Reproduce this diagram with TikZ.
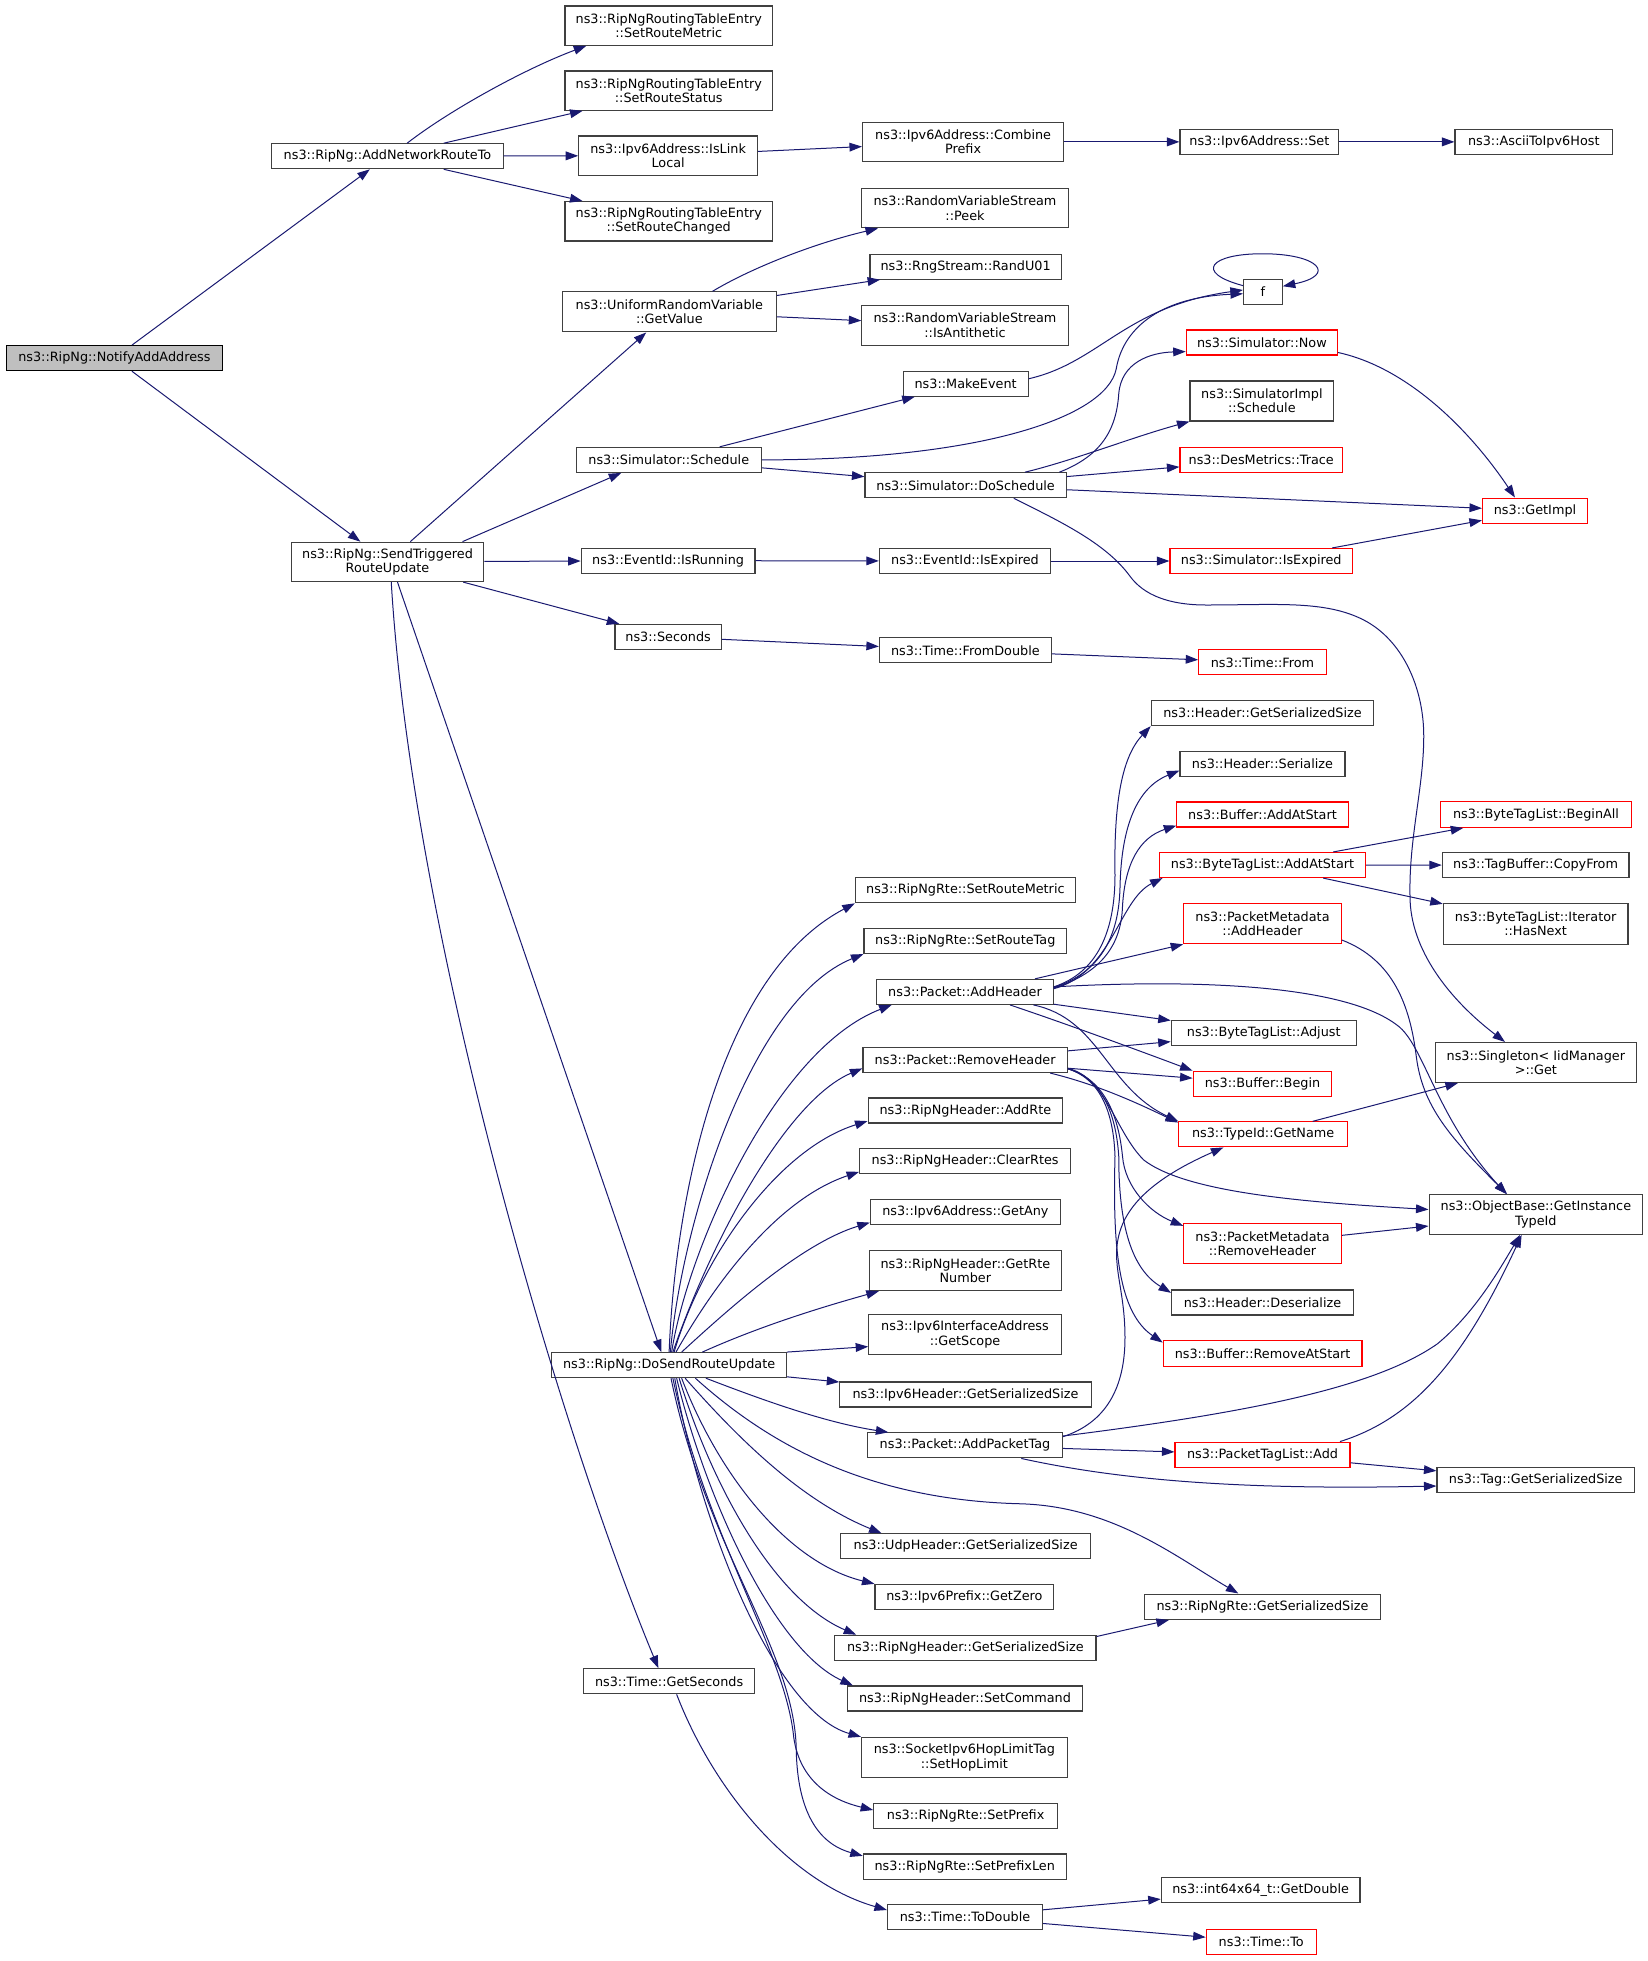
\documentclass[tikz,border=0pt]{standalone}
\usepackage{fontspec}
\setmainfont{DejaVu Sans}
\usetikzlibrary{arrows.meta}
\definecolor{edgeblue}{HTML}{191970}
\definecolor{boxgray}{HTML}{404040}
\definecolor{rootfill}{HTML}{BFBFBF}
\begin{document}
\begin{tikzpicture}[x=1pt,y=-1pt,
  fn/.style={draw=boxgray, line width=0.9pt, fill=white, inner xsep=2pt, inner ysep=1pt, align=center, font=\fontsize{10.25}{11.5}\selectfont, text=black},
  rfn/.style={fn, draw=red},
  rootfn/.style={fn, draw=black, fill=rootfill},
  wh/.style 2 args={minimum width=#1pt, minimum height=#2pt},
  ce/.style={draw=edgeblue, line width=0.8pt, -{Triangle[length=10pt,width=7pt]}}]
\useasboundingbox (0,0) rectangle (1318.4,1568.8);

% ---------------- nodes ----------------
\node[rootfn,wh={173}{20}] (root) at (91.5,286.5) {ns3::RipNg::NotifyAddAddress};
\node[fn,wh={185}{20}] (anrt) at (310,125) {ns3::RipNg::AddNetworkRouteTo};
\node[fn,wh={166}{31.5}] (srm) at (535,20.5) {ns3::RipNgRoutingTableEntry\\::SetRouteMetric};
\node[fn,wh={166}{31.5}] (srs) at (535,72.5) {ns3::RipNgRoutingTableEntry\\::SetRouteStatus};
\node[fn,wh={143}{31.5}] (ill) at (534.5,124.5) {ns3::Ipv6Address::IsLink\\Local};
\node[fn,wh={166}{31.5}] (src) at (535,177) {ns3::RipNgRoutingTableEntry\\::SetRouteChanged};
\node[fn,wh={161}{31.5}] (cp) at (770.5,113.5) {ns3::Ipv6Address::Combine\\Prefix};
\node[fn,wh={127}{20}] (set) at (1007.5,113.5) {ns3::Ipv6Address::Set};
\node[fn,wh={126}{20}] (ascii) at (1227,113.5) {ns3::AsciiToIpv6Host};
\node[fn,wh={154}{31.5}] (st) at (310,449.5) {ns3::RipNg::SendTriggered\\RouteUpdate};
\node[fn,wh={171}{32}] (gv) at (535.5,249.5) {ns3::UniformRandomVariable\\::GetValue};
\node[fn,wh={165}{31.5}] (peek) at (772,166.5) {ns3::RandomVariableStream\\::Peek};
\node[fn,wh={153}{20}] (ru) at (772.5,213.3) {ns3::RngStream::RandU01};
\node[fn,wh={165}{32}] (ia) at (772,260.3) {ns3::RandomVariableStream\\::IsAntithetic};
\node[fn,wh={31}{20}] (f) at (1010.3,233.5) {f};
\node[rfn,wh={121}{20}] (now) at (1009.5,274) {ns3::Simulator::Now};
\node[fn,wh={100}{20}] (me) at (772.5,307) {ns3::MakeEvent};
\node[fn,wh={115}{32}] (sis) at (1009.5,320.8) {ns3::SimulatorImpl\\::Schedule};
\node[fn,wh={148}{20}] (ss) at (535,367.9) {ns3::Simulator::Schedule};
\node[fn,wh={161}{20}] (ds) at (772.5,388.2) {ns3::Simulator::DoSchedule};
\node[rfn,wh={130}{20}] (dmt) at (1009,367.9) {ns3::DesMetrics::Trace};
\node[rfn,wh={84}{20}] (gi) at (1228,408.5) {ns3::GetImpl};
\node[fn,wh={139}{20}] (ir) at (534.5,448.5) {ns3::EventId::IsRunning};
\node[fn,wh={137}{20}] (eie) at (772,448.8) {ns3::EventId::IsExpired};
\node[rfn,wh={146}{20}] (sie) at (1009,448.8) {ns3::Simulator::IsExpired};
\node[fn,wh={85}{20}] (sec) at (534.5,509.5) {ns3::Seconds};
\node[fn,wh={137.5}{20}] (fd) at (772.3,520.3) {ns3::Time::FromDouble};
\node[rfn,wh={102}{20}] (tf) at (1010,529.9) {ns3::Time::From};
\node[fn,wh={178}{20}] (hgss) at (1010,570.5) {ns3::Header::GetSerializedSize};
\node[fn,wh={132}{20}] (hser) at (1010,611) {ns3::Header::Serialize};
\node[rfn,wh={137}{20}] (bas) at (1010,651.6) {ns3::Buffer::AddAtStart};
\node[rfn,wh={165}{20}] (btas) at (1010,692) {ns3::ByteTagList::AddAtStart};
\node[rfn,wh={152.6}{20.6}] (ba) at (1228.8,651.6) {ns3::ByteTagList::BeginAll};
\node[fn,wh={149.3}{20}] (cf) at (1228.5,692.1) {ns3::TagBuffer::CopyFrom};
\node[fn,wh={147.7}{32.5}] (hn) at (1228.5,739) {ns3::ByteTagList::Iterator\\::HasNext};
\node[rfn,wh={126}{32}] (pmah) at (1010,739) {ns3::PacketMetadata\\::AddHeader};
\node[fn,wh={176}{20}] (rsrm) at (772.3,712.2) {ns3::RipNgRte::SetRouteMetric};
\node[fn,wh={162}{20}] (rsrt) at (772.2,752.8) {ns3::RipNgRte::SetRouteTag};
\node[fn,wh={141}{20}] (pah) at (772,793.5) {ns3::Packet::AddHeader};
\node[fn,wh={148}{20}] (adj) at (1011,826.7) {ns3::ByteTagList::Adjust};
\node[fn,wh={161.3}{32}] (sg) at (1228.7,850) {ns3::Singleton< IidManager\\>::Get};
\node[fn,wh={163.5}{20}] (prh) at (772.1,848) {ns3::Packet::RemoveHeader};
\node[rfn,wh={111}{20}] (bb) at (1010,867) {ns3::Buffer::Begin};
\node[fn,wh={155.7}{20}] (addrte) at (772.3,888.4) {ns3::RipNgHeader::AddRte};
\node[rfn,wh={135}{20}] (tg) at (1010.5,907.5) {ns3::TypeId::GetName};
\node[fn,wh={168.8}{20}] (clr) at (772.1,929) {ns3::RipNgHeader::ClearRtes};
\node[fn,wh={170.9}{31.8}] (ob) at (1228.7,971.6) {ns3::ObjectBase::GetInstance\\TypeId};
\node[fn,wh={152}{20}] (any) at (772.3,969.6) {ns3::Ipv6Address::GetAny};
\node[rfn,wh={126}{32}] (pmrh) at (1010,995.1) {ns3::PacketMetadata\\::RemoveHeader};
\node[fn,wh={153.6}{32}] (grn) at (772.3,1016.5) {ns3::RipNgHeader::GetRte\\Number};
\node[fn,wh={145.4}{20}] (hds) at (1010,1042) {ns3::Header::Deserialize};
\node[fn,wh={154}{31.5}] (gsc) at (772,1067.5) {ns3::Ipv6InterfaceAddress\\::GetScope};
\node[rfn,wh={158.9}{20.3}] (bras) at (1010.1,1082.7) {ns3::Buffer::RemoveAtStart};
\node[fn,wh={187.6}{20}] (dsru) at (535.3,1092.1) {ns3::RipNg::DoSendRouteUpdate};
\node[fn,wh={201}{20}] (ihg) at (772.4,1115.6) {ns3::Ipv6Header::GetSerializedSize};
\node[fn,wh={156}{20}] (apt) at (772,1156.3) {ns3::Packet::AddPacketTag};
\node[rfn,wh={140}{20}] (ptla) at (1010,1163.7) {ns3::PacketTagList::Add};
\node[fn,wh={158}{20}] (tgs) at (1228.6,1184) {ns3::Tag::GetSerializedSize};
\node[fn,wh={200}{20}] (udp) at (772.5,1237) {ns3::UdpHeader::GetSerializedSize};
\node[fn,wh={143}{20}] (gz) at (771.5,1277.5) {ns3::Ipv6Prefix::GetZero};
\node[fn,wh={188.8}{20.3}] (rrgs) at (1010,1285.4) {ns3::RipNgRte::GetSerializedSize};
\node[fn,wh={209}{20}] (rhgs) at (772.3,1318.2) {ns3::RipNgHeader::GetSerializedSize};
\node[fn,wh={136.5}{20}] (gsec) at (535.3,1345) {ns3::Time::GetSeconds};
\node[fn,wh={188}{20}] (scmd) at (772,1358.8) {ns3::RipNgHeader::SetCommand};
\node[fn,wh={164.5}{32}] (shl) at (771.5,1405.9) {ns3::SocketIpv6HopLimitTag\\::SetHopLimit};
\node[fn,wh={147}{20}] (sp) at (772.5,1452.7) {ns3::RipNgRte::SetPrefix};
\node[fn,wh={162.3}{20.3}] (spl) at (771.8,1493.3) {ns3::RipNgRte::SetPrefixLen};
\node[fn,wh={159}{20}] (gd) at (1008.5,1512) {ns3::int64x64\_t::GetDouble};
\node[fn,wh={124}{20}] (td) at (772,1533.5) {ns3::Time::ToDouble};
\node[rfn,wh={88}{20}] (tto) at (1009,1553.5) {ns3::Time::To};

% ---------------- edges ----------------
\draw[ce] (root) -- (anrt);
\draw[ce] (root) -- (st);
\draw[ce] ([xshift=15.7pt]anrt.north) .. controls (360,88) and (420,55) .. ([xshift=-66pt]srm.south);
\draw[ce] ([xshift=45pt]anrt.north) -- ([xshift=-69pt]srs.south);
\draw[ce] (anrt) -- (ill);
\draw[ce] ([xshift=45pt]anrt.south) -- ([xshift=-69pt]src.north);
\draw[ce] (ill) -- (cp);
\draw[ce] (cp) -- (set);
\draw[ce] (set) -- (ascii);
\draw[ce] (st) -- (gv);
\draw[ce] ([xshift=60pt]st.north) -- ([xshift=-38pt]ss.south);
\draw[ce] (st) -- (ir);
\draw[ce] (st) -- (sec);
\draw[ce] ([xshift=8pt]st.south) -- ([xshift=-6.3pt]dsru.north);
\draw[ce] ([xshift=3pt]st.south) .. controls (330,750) and (450,1150) .. ([xshift=-8.6pt]gsec.north);
\draw[ce] ([xshift=34.5pt]gv.north) .. controls (600,215) and (650,195) .. ([xshift=-69.6pt]peek.south);
\draw[ce] (gv) -- (ru);
\draw[ce] (gv) -- (ia);
\draw[ce] (ss) -- (me);
\draw[ce] (ss.east) .. controls (780,368) and (885,335) .. (893,295) .. controls (898,265) and (925,238) .. ([yshift=-1.5pt]f.west);
\draw[ce] ([yshift=4pt]me.east) .. controls (880,290) and (900,245) .. ([yshift=1.5pt]f.west);
\draw[ce] ([yshift=5pt]f.west) .. controls (955,218) and (968,203) .. (1010,203) .. controls (1055,203) and (1070,220) .. ([yshift=4.5pt]f.east);
\draw[ce] (ss) -- (ds);
\draw[ce] ([xshift=75pt]ds.north) .. controls (880,365) and (893,345) .. (895,315) .. controls (897,290) and (920,282) .. ([yshift=-7.3pt]now.west);
\draw[ce] ([xshift=47.5pt]ds.north) .. controls (860,368) and (905,350) .. (sis.south west);
\draw[ce] (ds) -- (dmt);
\draw[ce] (ds) -- (gi);
\draw[ce] ([xshift=38.5pt]ds.south) .. controls (850,418) and (885,435) .. (904,461) .. controls (915,476) and (935,484) .. (965,484) .. controls (1020,484) and (1060,480) .. (1091,496) .. controls (1122,512) and (1139,550) .. (1139,589) .. controls (1139,630) and (1127,670) .. (1128,717) .. controls (1128,760) and (1160,800) .. ([xshift=-24.7pt]sg.north);
\draw[ce] ([yshift=-8pt]now.east) .. controls (1130,295) and (1180,350) .. ([xshift=-16pt]gi.north);
\draw[ce] (ir) -- (eie);
\draw[ce] (eie) -- (sie);
\draw[ce] (sie) -- (gi);
\draw[ce] (sec) -- (fd);
\draw[ce] (fd) -- (tf);

% DoSendRouteUpdate fan
\draw[ce] (dsru.north) .. controls (540,960) and (575,780) .. (rsrm.south west);
\draw[ce] ([xshift=1pt]dsru.north) .. controls (545,980) and (600,800) .. (rsrt.south west);
\draw[ce] ([xshift=2pt]dsru.north) .. controls (550,1000) and (620,840) .. ([xshift=-58.7pt]pah.south);
\draw[ce] ([xshift=3pt]dsru.north) .. controls (570,990) and (630,880) .. ([yshift=-6.7pt]prh.west);
\draw[ce] ([xshift=4pt]dsru.north) .. controls (560,1010) and (620,920) .. ([yshift=2pt]addrte.south west);
\draw[ce] ([xshift=5.5pt]dsru.north) .. controls (570,1030) and (620,960) .. ([yshift=2pt]clr.south west);
\draw[ce] ([xshift=10pt]dsru.north) .. controls (580,1050) and (640,995) .. ([yshift=2pt]any.south west);
\draw[ce] ([xshift=26.6pt]dsru.north) .. controls (610,1060) and (660,1045) .. ([xshift=8pt]grn.south west);
\draw[ce] (dsru.north east) -- ([yshift=-9.8pt]gsc.west);
\draw[ce] (dsru) -- (ihg);
\draw[ce] ([xshift=29.4pt]dsru.south) .. controls (610,1120) and (660,1138) .. ([xshift=-61.3pt]apt.north);
\draw[ce] ([xshift=21pt]dsru.south) .. controls (620,1160) and (700,1200) .. (816,1203) .. controls (890,1205) and (940,1245) .. ([xshift=-19.3pt]rrgs.north);
\draw[ce] ([xshift=12.8pt]dsru.south) .. controls (590,1150) and (640,1200) .. ([xshift=-67.3pt]udp.north);
\draw[ce] ([xshift=10pt]dsru.south) .. controls (575,1180) and (630,1250) .. (gz.north west);
\draw[ce] ([xshift=8pt]dsru.south) .. controls (570,1190) and (620,1280) .. ([xshift=17.6pt]rhgs.north west);
\draw[ce] ([xshift=6pt]dsru.south) .. controls (565,1200) and (620,1320) .. ([xshift=4.7pt]scmd.north west);
\draw[ce] ([xshift=4.5pt]dsru.south) .. controls (560,1220) and (620,1370) .. (shl.north west);
\draw[ce] ([xshift=3pt]dsru.south) .. controls (565,1230) and (628,1320) .. (635,1390) .. controls (640,1425) and (665,1440) .. ([yshift=4.7pt]sp.west);
\draw[ce] ([xshift=1.5pt]dsru.south) .. controls (565,1240) and (636,1320) .. (637,1400) .. controls (638,1450) and (655,1475) .. ([yshift=-2pt]spl.north west);

% Time
\draw[ce] ([xshift=6pt]gsec.south) .. controls (570,1430) and (630,1505) .. ([yshift=5.5pt]td.west);
\draw[ce] (td) -- (gd);
\draw[ce] (td) -- (tto);

% Packet::AddHeader
\draw[ce] ([yshift=4pt]pah.east) .. controls (878,778) and (892,745) .. (892,700) .. controls (891,640) and (898,605) .. (hgss.south west);
\draw[ce] ([yshift=3.5pt]pah.east) .. controls (880,778) and (895,750) .. (896,710) .. controls (897,660) and (910,630) .. ([yshift=5pt]hser.south west);
\draw[ce] ([yshift=3pt]pah.east) .. controls (882,778) and (897,755) .. (898,725) .. controls (900,690) and (912,670) .. ([yshift=1.6pt]bas.south west);
\draw[ce] ([yshift=2.5pt]pah.east) .. controls (890,778) and (895,720) .. ([xshift=3pt]btas.south west);
\draw[ce] ([xshift=56pt]pah.north) -- (pmah.south west);
\draw[ce] ([yshift=4pt]pah.east) .. controls (960,783) and (1080,788) .. (1120,822) .. controls (1140,840) and (1150,895) .. ([xshift=-23.6pt]ob.north);
\draw[ce] (pah) -- (adj);
\draw[ce] ([xshift=36pt]pah.south) .. controls (850,818) and (910,840) .. (bb.north west);
\draw[ce] ([xshift=54.7pt]pah.south) .. controls (880,815) and (885,870) .. (tg.north west);
\draw[ce] ([yshift=-13pt]pmah.east) .. controls (1115,768) and (1128,805) .. (1133,845) .. controls (1138,885) and (1160,910) .. ([xshift=-23pt]ob.north);
\draw[ce] (btas) -- (ba);
\draw[ce] (btas) -- (cf);
\draw[ce] (btas) -- (hn);
\draw[ce] (tg) -- (sg);

% Packet::RemoveHeader
\draw[ce] (prh) -- (adj);
\draw[ce] (prh) -- (bb);
\draw[ce] ([xshift=68pt]prh.south) .. controls (880,868) and (915,885) .. ([yshift=-1pt]tg.north west);
\draw[ce] ([yshift=-6.7pt]prh.east) .. controls (885,862) and (892,905) .. (915,928) .. controls (950,955) and (1050,962) .. ([yshift=4pt]ob.west);
\draw[ce] ([yshift=-7pt]prh.east) .. controls (885,864) and (895,895) .. (898,925) .. controls (900,950) and (920,970) .. ([yshift=-2pt]pmrh.north west);
\draw[ce] ([yshift=-7pt]prh.east) .. controls (884,864) and (893,895) .. (895,925) .. controls (895,980) and (905,1015) .. ([yshift=-2.7pt]hds.north west);
\draw[ce] ([yshift=-7pt]prh.east) .. controls (883,864) and (891,895) .. (892,925) .. controls (890,1000) and (895,1050) .. ([yshift=-2pt]bras.north west);
\draw[ce] (pmrh) -- (ob);

% Packet::AddPacketTag
\draw[ce] ([yshift=7pt]apt.east) .. controls (885,1138) and (900,1110) .. (900,1070) .. controls (900,1030) and (888,1010) .. (896,985) .. controls (905,955) and (940,935) .. ([xshift=-31.8pt]tg.south);
\draw[ce] ([yshift=7.5pt]apt.east) .. controls (1000,1130) and (1100,1110) .. (1150,1075) .. controls (1180,1050) and (1200,1015) .. ([xshift=-12.7pt]ob.south);
\draw[ce] (apt) -- (ptla);
\draw[ce] ([xshift=45pt]apt.south) .. controls (900,1185) and (1000,1192) .. ([yshift=-4.8pt]tgs.west);
\draw[ce] (ptla) -- (tgs);
\draw[ce] ([xshift=62pt]ptla.north) .. controls (1130,1135) and (1170,1090) .. ([xshift=-11.4pt]ob.south);
\draw[ce] ([yshift=9pt]rhgs.east) -- ([xshift=20pt]rrgs.south west);
\end{tikzpicture}
\end{document}
